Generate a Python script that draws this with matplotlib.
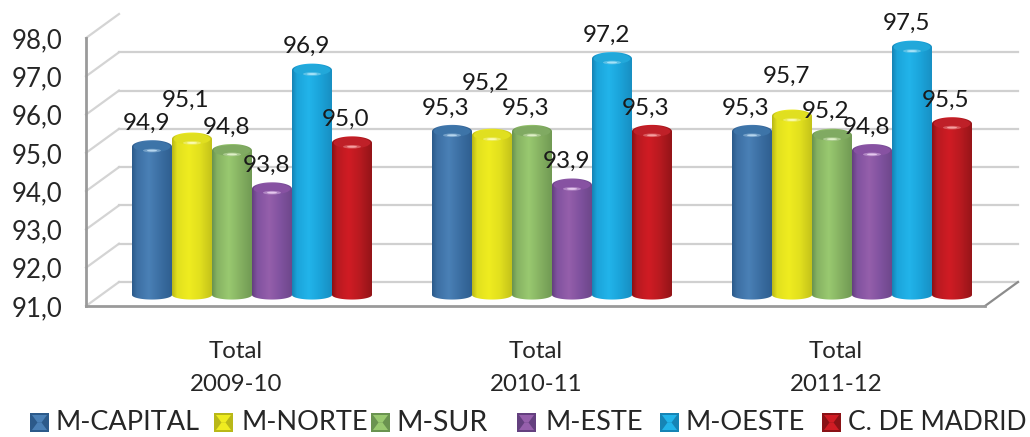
import numpy as np
import matplotlib
matplotlib.use("Agg")
import matplotlib.pyplot as plt
from matplotlib.colors import LinearSegmentedColormap
from matplotlib.patches import Ellipse, Polygon, Rectangle
from matplotlib.path import Path
from matplotlib.ticker import FuncFormatter
from matplotlib.transforms import ScaledTranslation

plt.rcParams["font.family"] = ["Lato", "DejaVu Sans"]

periods = ["Total\n2009-10", "Total\n2010-11", "Total\n2011-12"]
areas = ["M-CAPITAL", "M-NORTE", "M-SUR", "M-ESTE", "M-OESTE", "C. DE MADRID"]
m_capital = [94.9, 95.3, 95.3]
m_norte = [95.1, 95.2, 95.7]
m_sur = [94.8, 95.3, 95.2]
m_este = [93.8, 93.9, 94.8]
m_oeste = [96.9, 97.2, 97.5]
c_madrid = [95.0, 95.3, 95.5]
series = [m_capital, m_norte, m_sur, m_este, m_oeste, c_madrid]
y_ticks = [91, 92, 93, 94, 95, 96, 97, 98]

# edge, mid, highlight, dark edge, cap, shine
colors = [
    ("#2c5a8a", "#3c6fa3", "#4a80b6", "#2f5f90", "#3d74a8", "#b5d5ee"),
    ("#b9b818", "#e2e01e", "#efec20", "#c4c31a", "#e0df20", "#fbfbb0"),
    ("#6a9350", "#86b262", "#99c970", "#719a54", "#80aa62", "#dff0c8"),
    ("#64407f", "#80529f", "#955fab", "#6d478a", "#8752a2", "#e5c8ee"),
    ("#1684b5", "#1ba4da", "#22b4ea", "#188fc2", "#22a8da", "#a5e2f8"),
    ("#8a1216", "#b81a20", "#d01c24", "#941418", "#bf2028", "#f6a0a0"),
]

# pixels of the 1030x437 picture
W, H = 1030, 437
PX_LEFT, PX_RIGHT, PX_TOP, PX_BOTTOM = 86, 985, 38, 306
PX_GROUP = 300.0
PX_UNIT = (PX_BOTTOM - PX_TOP) / 7.0
DX = 1 / PX_GROUP
DY = 1 / PX_UNIT
DEPTH_X, DEPTH_Y = 33, 24
BAR_W = 40
CAP_H = 6.5
# extra lift of the value labels, px
label_lift = [[0, 15, 0, 0, 0, 0], [0, 28, 0, 0, 0, 0], [0, 16, 0, 0, 0, 0]]

fig = plt.figure(figsize=(W / 100, H / 100), dpi=100, facecolor="white")
ax = fig.add_axes(
    [PX_LEFT / W, 1 - PX_BOTTOM / H, (PX_RIGHT - PX_LEFT) / W, (PX_BOTTOM - PX_TOP) / H]
)
x_min = (PX_LEFT - 252) * DX
x_max = (PX_RIGHT - 252) * DX

# floor and walls
back_x = x_min + DEPTH_X * DX
back_r = x_max + DEPTH_X * DX
for t in y_ticks:
    back_y = t + DEPTH_Y * DY
    ax.plot([x_min, back_x], [t, back_y], color="#d4d4d4", lw=1.6, clip_on=False, zorder=1)
    if t < 98:
        ax.plot([back_x, back_r], [back_y, back_y], color="#d0d0d0", lw=1.6, clip_on=False, zorder=1)
ax.plot([x_max, back_r], [91, 91 + DEPTH_Y * DY], color="#8c8c8c", lw=1.6, clip_on=False, zorder=1)


def cylinder(x, value, cols, z):
    base = 91 + 11 * DY
    top = value + 10 * DY
    half = BAR_W / 2 * DX
    cap = CAP_H * DY
    t = np.linspace(np.pi, 2 * np.pi, 40)
    low_x = x + half * np.cos(t)
    low_y = base + 0.7 * cap * np.sin(t)
    top_x = x - half * np.cos(t)
    top_y = top - cap * np.sin(t)
    outline = np.column_stack([np.r_[low_x, top_x], np.r_[low_y, top_y]])
    cmap = LinearSegmentedColormap.from_list(
        "c", [(0, cols[0]), (0.12, cols[1]), (0.42, cols[2]), (0.7, cols[1]), (1, cols[3])]
    )
    im = ax.imshow(
        np.linspace(0, 1, 64).reshape(1, -1),
        cmap=cmap,
        aspect="auto",
        extent=[x - half, x + half, base - 2 * cap, top + 2 * cap],
        zorder=z,
    )
    im.set_clip_path(Path(outline), ax.transData)
    ax.add_patch(
        Ellipse((x, top), 2 * half * 0.92, 1.7 * cap, fc=cols[4], ec="none", zorder=z + 0.1)
    )
    # soft shine just under the middle of the cap
    ax.add_patch(
        Ellipse((x, top - 0.6 * cap), 0.9 * half, 0.55 * cap, fc=cols[5], alpha=0.45, ec="none", zorder=z + 0.2)
    )
    ax.add_patch(
        Ellipse((x, top - 0.6 * cap), 0.5 * half, 0.3 * cap, fc=cols[5], ec="none", zorder=z + 0.3)
    )
    return top + cap


for g in range(len(periods)):
    for i, values in enumerate(series):
        x = g + (i - 2.5) * BAR_W * DX
        y_top = cylinder(x, values[g], colors[i], 3 + i)
        ax.annotate(
            f"{values[g]:.1f}".replace(".", ","),
            (x, y_top),
            xytext=(-6 * 0.72, (17 + label_lift[g][i]) * 0.72),
            textcoords="offset points",
            ha="center",
            va="center",
            fontsize=17.5,
            color="#1a1a1a",
            zorder=20,
        )

ax.set_xlim(x_min, x_max)
ax.set_ylim(91, 98)
ax.patch.set_alpha(0)
for side in ["top", "right"]:
    ax.spines[side].set_visible(False)
for side in ["left", "bottom"]:
    ax.spines[side].set_color("#9a9a9a")
    ax.spines[side].set_linewidth(2)
    ax.spines[side].set_zorder(2)

ax.set_yticks(y_ticks)
ax.yaxis.set_major_formatter(FuncFormatter(lambda v, p: f"{v:.1f}".replace(".", ",")))
ax.tick_params(axis="y", length=0, pad=17, labelsize=18.5, labelcolor="#262626")
ax.set_xticks(range(len(periods)))
ax.set_xticklabels(periods, linespacing=1.75)
ax.tick_params(axis="x", length=0, pad=25, labelsize=17.3, labelcolor="#262626")
shift = ScaledTranslation(-16 / 100, 0, fig.dpi_scale_trans)
for lab in ax.get_xticklabels():
    lab.set_transform(lab.get_transform() + shift)


# legend, placed by hand like the original one
def icon(px, py, cols):
    size = 19

    def fp(a, b):
        return (a / W, 1 - b / H)

    fig.add_artist(
        Rectangle(fp(px, py + size), size / W, size / H, fc=cols[0], ec="none", transform=fig.transFigure)
    )
    top_tri = [fp(px + 2, py + 2), fp(px + size - 2, py + 2), fp(px + size / 2 + 2, py + size / 2), fp(px + size / 2 - 2, py + size / 2)]
    low_tri = [fp(px + 2, py + size - 2), fp(px + size - 2, py + size - 2), fp(px + size / 2 + 2, py + size / 2), fp(px + size / 2 - 2, py + size / 2)]
    fig.add_artist(Polygon(top_tri, fc=cols[2], ec="none", transform=fig.transFigure))
    fig.add_artist(Polygon(low_tri, fc=cols[2], ec="none", transform=fig.transFigure))


icon_x = [30, 214, 371, 517, 660, 822]
text_x = [56, 241, 396, 545, 686, 848]
text_size = [19.5, 19.5, 20.5, 19.5, 19.5, 19]
for name, cols, ix, tx, fs in zip(areas, colors, icon_x, text_x, text_size):
    icon(ix, 413, cols)
    fig.text(tx / W, 1 - 423 / H, name, fontsize=fs, color="#262626", ha="left", va="center")

fig.savefig("out.png", dpi=100)
